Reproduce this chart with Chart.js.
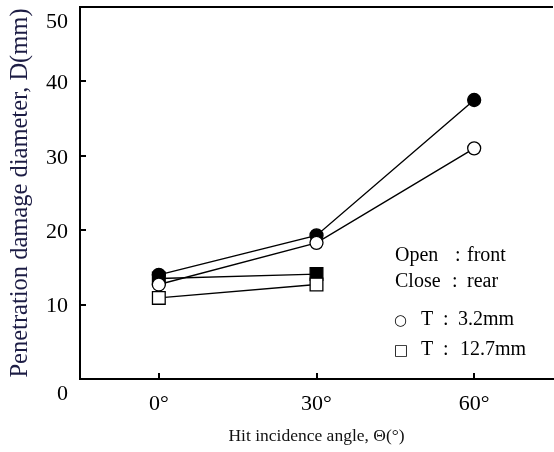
<!DOCTYPE html>
<html>
<head>
<meta charset="utf-8">
<script src="https://cdn.jsdelivr.net/npm/chart.js@4"></script>
<style>
  html, body { margin: 0; padding: 0; background: #fff; }
  #wrap { width: 554px; height: 452px; position: relative; }
</style>
</head>
<body>
<div id="wrap"><canvas id="chart"></canvas></div>
<script>
// categories and values
const angles = ["0°", "30°", "60°"];
const rear32 = [14.0, 19.3, 37.5];    // filled circle
const front32 = [12.7, 18.3, 31.0];   // open circle
const rear127 = [13.5, 14.1, null];   // filled square
const front127 = [10.9, 12.7, null];  // open square
const yTicks = [0, 10, 20, 30, 40, 50];

const FONT = '"Liberation Serif", "Times New Roman", serif';

// legend-ish notes written inside the plot
const notes = [
  { y: 256, parts: [["Open", 395], [":", 455], ["front", 467]] },
  { y: 282, parts: [["Close", 395], [":", 452], ["rear", 467]] },
  { y: 320, parts: [["○", 394], ["T", 421], [":", 443], ["3.2mm", 458]] },
  { y: 350, parts: [["□", 394], ["T", 421], [":", 443], ["12.7mm", 460]] }
];

const notesPlugin = {
  id: "notes",
  afterDraw(chart) {
    const ctx = chart.ctx;
    const a = chart.chartArea;
    ctx.save();
    // top frame line
    ctx.strokeStyle = "#000";
    ctx.lineWidth = 2;
    ctx.beginPath();
    ctx.moveTo(a.left, a.top);
    ctx.lineTo(a.right, a.top);
    ctx.stroke();

    ctx.fillStyle = "#000";
    ctx.textBaseline = "middle";
    ctx.textAlign = "left";
    notes.forEach(row => {
      row.parts.forEach(([txt, x]) => {
        const sym = txt === "○" || txt === "□";
        ctx.font = sym ? '15px "DejaVu Sans", sans-serif' : "20px " + FONT;
        ctx.fillText(txt, x, row.y + (sym ? 1 : 0));
      });
    });
    ctx.restore();
  }
};

function series(data, style, filled, order) {
  return {
    data: data,
    borderColor: "#000",
    borderWidth: 1.4,
    pointStyle: style,
    pointRadius: style === "rect" ? 9 : 6.5,
    pointHoverRadius: style === "rect" ? 9 : 6.5,
    pointBorderWidth: 1.3,
    pointBackgroundColor: filled ? "#000" : "#fff",
    pointBorderColor: "#000",
    fill: false,
    tension: 0,
    spanGaps: false,
    order: order
  };
}

new Chart(document.getElementById("chart"), {
  type: "line",
  data: {
    labels: angles,
    datasets: [
      series(front32, "circle", false, 1),
      series(rear32, "circle", true, 2),
      series(front127, "rect", false, 3),
      series(rear127, "rect", true, 4)
    ]
  },
  options: {
    responsive: true,
    maintainAspectRatio: false,
    animation: false,
    layout: { autoPadding: false, padding: { top: 7, right: 1, left: 0, bottom: 0 } },
    plugins: {
      legend: { display: false },
      tooltip: { enabled: false }
    },
    scales: {
      x: {
        type: "category",
        offset: true,
        grid: { display: true, drawOnChartArea: false, offset: false, tickLength: -6, color: "#000", lineWidth: 2 },
        border: { color: "#000", width: 2 },
        ticks: { color: "#000", font: { family: FONT, size: 22 }, padding: 18 },
        title: {
          display: true,
          text: "Hit incidence angle, Θ(°)",
          color: "#111",
          font: { family: FONT, size: 17.5 },
          padding: { top: 5, bottom: 5 }
        },
        afterFit: s => {
          s.height = 73;
          s.paddingLeft = 0;
          s.paddingRight = 0;
        }
      },
      y: {
        min: 0,
        max: 50,
        afterBuildTicks: s => {
          const t = [];
          for (let v = 0; v <= 50; v += 5) t.push({ value: v });
          s.ticks = t;
        },
        grid: { display: true, drawOnChartArea: false, tickLength: -6, color: "#000", lineWidth: 2 },
        border: { color: "#000", width: 2 },
        ticks: {
          color: "#000",
          font: { family: FONT, size: 22 },
          padding: 18,
          labelOffset: 2,
          // end labels sit a line lower in the original
          callback: v => {
            if (!yTicks.includes(v)) return "";
            return (v === 0 || v === 50) ? ["", String(v)] : String(v);
          }
        },
        title: {
          display: true,
          text: "Penetration damage diameter, D(mm)",
          color: "#1c1c44",
          font: { family: FONT, size: 24.5 },
          padding: { top: 6, bottom: 6 }
        },
        afterFit: s => {
          s.width = 80;
          s.paddingTop = 0;
          s.paddingBottom = 0;
        }
      }
    }
  },
  plugins: [notesPlugin]
});
</script>
</body>
</html>
